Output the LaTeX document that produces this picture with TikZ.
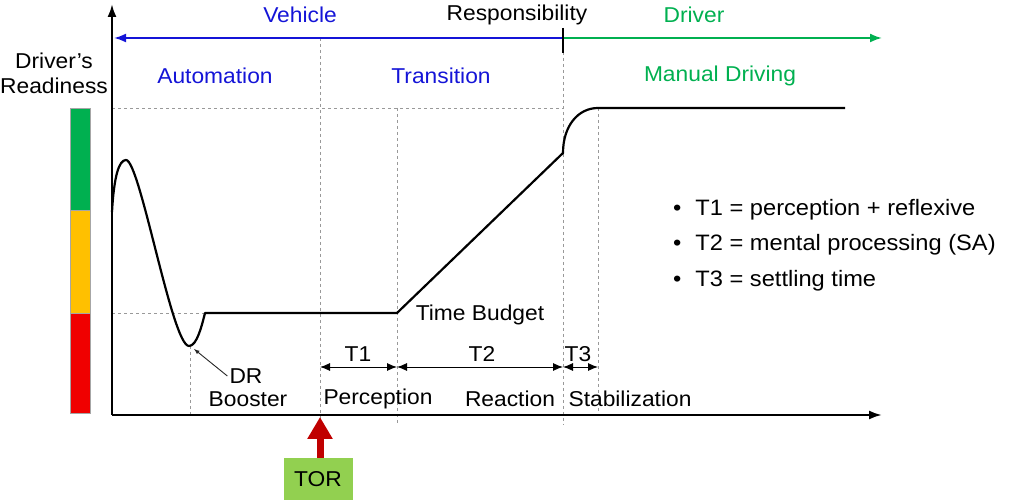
\documentclass[tikz,border=0pt]{standalone}
\usepackage{fontspec}
\setmainfont[FakeStretch=1.06]{Liberation Sans}
\usetikzlibrary{arrows.meta,positioning}
\definecolor{vehblue}{RGB}{20,20,215}
\definecolor{drvgreen}{RGB}{0,176,80}
\definecolor{baryellow}{RGB}{255,192,0}
\definecolor{barred}{RGB}{240,0,0}
\definecolor{torgreen}{RGB}{146,208,80}
\definecolor{torred}{RGB}{192,0,0}

\begin{document}
\begin{tikzpicture}[
x=1pt, y=-1pt,
txt/.style={
  font=\fontsize{21.5}{25}\selectfont,
  inner sep=2pt
  },
bullet/.style={
  txt,
  font=\fontsize{22.3}{26}\selectfont,
  anchor=west
  },
guide/.style={
  draw=gray!80,
  line width=0.9pt,
  dash pattern=on 3pt off 3pt
  },
axis/.style={
  line width=2.2pt,
  -{Latex[length=13pt,width=9pt]}
  },
dim/.style={
  line width=0.9pt,
  {Latex[length=10pt,width=8pt]}-{Latex[length=10pt,width=8pt]}
  },
bar/.style={
  draw=gray!70,
  line width=0.6pt
  },
>=latex
]
\useasboundingbox (0,0) rectangle (1013,502);

% key points
\coordinate (orig) at (112,415);
\coordinate (ytip) at (112,4);
\coordinate (xtip) at (882,415);
\coordinate (split) at (563,38);
\coordinate (rleft) at (114,38);
\coordinate (rright) at (882,38);
\coordinate (drmin) at (194,349);
\coordinate (torpt) at (320,417);

% guide lines
\draw[guide] (112,108) -- (563,108);
\draw[guide] (112,313) -- (205,313);
\draw[guide] (320,38) -- (320,422);
\draw[guide] (397,108) -- (397,425);
\draw[guide] (563,52) -- (563,425);
\draw[guide] (598,108) -- (598,415);
\draw[guide] (190,346) -- (190,415);

% readiness bar
\draw[bar, fill=drvgreen] (70,108) rectangle (90,210);
\draw[bar, fill=baryellow] (70,210) rectangle (90,313);
\draw[bar, fill=barred] (70,313) rectangle (90,413);

% axes
\draw[axis] (orig) -- (ytip);
\draw[axis] (orig) -- (xtip);

% responsibility
\draw[vehblue, line width=2pt, -{Latex[length=12pt,width=9pt]}] (split) -- (rleft);
\draw[drvgreen, line width=2pt, -{Latex[length=12pt,width=9pt]}] (split) -- (rright);
\draw[line width=2pt] (563,28) -- (563,53);

\node[txt, vehblue] (vehicle) at (300,15) {Vehicle};
\node[txt] (resp) at (517,15) {Responsibility};
\node[txt, drvgreen] (driver) at (694,15) {Driver};
\node[txt, vehblue] (automation) at (215,76) {Automation};
\node[txt, vehblue] (transition) at (441,76) {Transition};
\node[txt, drvgreen] (manual) at (720,76) {Manual Driving};
\node[txt, align=center] (readiness) at (54,73) {Driver’s\\Readiness};

% readiness curve
\draw[line width=2.2pt, line join=round] (112,212)
  .. controls (114,176) and (119,160) .. (126,160)
  .. controls (140,160) and (172,346) .. (189,346)
  .. controls (197,346) and (202,325) .. (205,313)
  -- (397,313) -- (563,153)
  .. controls (563,126) and (578,108) .. (598,108)
  -- (845,108);

\node[txt] (budget) at (480,315) {Time Budget};

% time segments
\coordinate (s0) at (320,367);
\coordinate (s1) at (397,367);
\coordinate (s2) at (563,367);
\coordinate (s3) at (598,367);
\draw[dim] (s0) -- (s1);
\draw[dim] (s1) -- (s2);
\draw[dim] (s2) -- (s3);
\node[txt] (tone) at (358,354) {T1};
\node[txt] (ttwo) at (482,354) {T2};
\node[txt] (tthree) at (578,354) {T3};

\node[txt] (perception) at (378,399) {Perception};
\node[txt] (reaction) at (510,399) {Reaction};
\node[txt] (stabil) at (630,399) {Stabilization};

\node[txt] (dr) at (246,376) {DR};
\node[txt] (booster) at (248,399) {Booster};
\draw[->, line width=0.9pt, gray!30!black] (dr.west) -- (drmin);

% take-over request
\node[txt, fill=torgreen, minimum width=69pt, minimum height=42pt] (tor) at (318,479) {TOR};
\draw[torred, line width=7pt, -{Triangle[length=22pt,width=24pt]}] (tor.north -| torpt) -- (torpt);

% legend
\node[bullet] (lgone) at (671,210) {\textbullet\hspace{14pt}T1 = perception + reflexive};
\node[bullet] (lgtwo) at (671,245) {\textbullet\hspace{14pt}T2 = mental processing (SA)};
\node[bullet] (lgthree) at (671,281) {\textbullet\hspace{14pt}T3 = settling time};
\end{tikzpicture}
\end{document}
